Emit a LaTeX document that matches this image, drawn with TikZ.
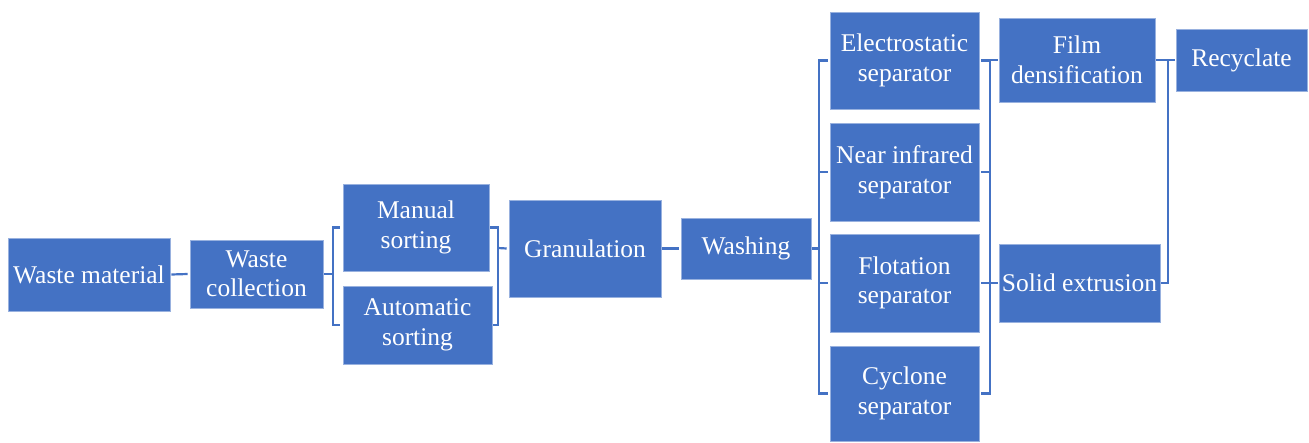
\documentclass[tikz,border=0pt]{standalone}
\usepackage{fontspec}
\setmainfont{Liberation Serif}
\definecolor{boxblue}{HTML}{4472C4}
\definecolor{linkblue}{HTML}{4472C4}
\newcommand\boxat[6]{\node[box, minimum width={#4-#2}, minimum height={#5-#3}] (#1) at ({(#2+#4)/2},{(#3+#5)/2}) {#6};}
\begin{document}
\begin{tikzpicture}[x=1pt,y=-1pt,
  box/.style={fill=boxblue, draw=boxblue!55!white, line width=0.6pt, text=white, align=center, inner sep=0pt, font=\fontsize{25.5}{29.5}\selectfont},
  link/.style={draw=linkblue, line width=2.2pt}]
\useasboundingbox (0,0) rectangle (1309,442);
\boxat{wm}{8}{238}{170}{311}{Waste material}
\boxat{wc}{190}{240}{323}{308}{Waste\\collection}
\boxat{ms}{343}{184}{489}{271}{Manual\\sorting}
\boxat{as}{343}{286}{492}{364}{Automatic\\sorting}
\boxat{gr}{509}{200}{661}{297}{Granulation}
\boxat{wa}{681}{218}{811}{279}{Washing}
\boxat{es}{830}{12}{979}{109}{Electrostatic\\separator}
\boxat{ni}{830}{123}{979}{221}{Near infrared\\separator}
\boxat{fl}{830}{234}{979}{332}{Flotation\\separator}
\boxat{cy}{830}{346}{979}{441}{Cyclone\\separator}
\boxat{fd}{999}{18}{1155}{102}{Film\\densification}
\boxat{se}{999}{244}{1160}{322}{Solid extrusion}
\boxat{rc}{1176}{29}{1307}{91}{Recyclate}
% connectors
\coordinate (b1) at (333,274);
\coordinate (b2) at (498,248);
\coordinate (b3) at (819,248.5);
\coordinate (b4) at (990,0);
\coordinate (b5) at (1168,0);
\draw[link] ([xshift=1pt]wm.east) -- ([xshift=-2pt]wc.west);
\draw[link] ([xshift=1pt]wc.east) -- (b1);
\draw[link] ([xshift=-3pt]ms.west) -| (b1) |- ([xshift=-3pt]as.west);
\draw[link] ([xshift=1pt]ms.east) -| (b2) |- ([xshift=1pt]as.east);
\draw[link] (b2) -- ([xshift=-2pt]gr.west);
\draw[link] ([xshift=1pt]gr.east) -- ([xshift=-2pt]wa.west);
\draw[link] ([xshift=1pt]wa.east) -- (b3);
\draw[link] ([xshift=-2pt]es.west) -| (b3) |- ([xshift=-2pt]cy.west);
\draw[link] ([xshift=-2pt]ni.west) -- (b3 |- ni.west);
\draw[link] ([xshift=-2pt]fl.west) -- (b3 |- fl.west);
\draw[link] ([xshift=2pt]es.east) -| (b4 |- cy.east) -- ([xshift=2pt]cy.east);
\draw[link] ([xshift=2pt]ni.east) -- (b4 |- ni.east);
\draw[link] ([xshift=2pt]fl.east) -- (b4 |- fl.east);
\draw[link] (b4 |- fd.west) -- ([xshift=-1pt]fd.west);
\draw[link] (b4 |- se.west) -- ([xshift=-1pt]se.west);
\draw[link] ([xshift=1pt]fd.east) -| (b5 |- se.east) -- ([xshift=1pt]se.east);
\draw[link] (b5 |- rc.west) -- ([xshift=-1pt]rc.west);
\end{tikzpicture}
\end{document}
